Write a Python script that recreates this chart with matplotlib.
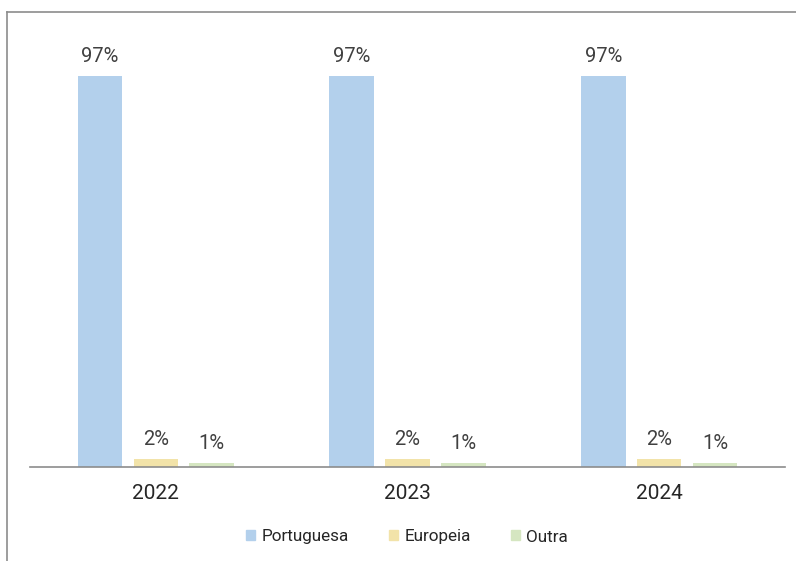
import matplotlib
matplotlib.use("Agg")
import matplotlib.pyplot as plt
import numpy as np
from matplotlib.patches import Rectangle
from matplotlib.lines import Line2D

plt.rcParams['font.family'] = ['Roboto', 'DejaVu Sans']

years = ["2022", "2023", "2024"]
series = ["Portuguesa", "Europeia", "Outra"]
portuguesa = [97, 97, 97]
europeia = [2, 2, 2]
outra = [1, 1, 1]
colors = ["#b3d0ec", "#f2e3a9", "#d5e6c1"]

fig = plt.figure(figsize=(7.96, 5.61), dpi=100)
ax = fig.add_axes([30/796, (561-467)/561, 755/796, 403/561])

x = np.arange(len(years))
width = 0.177
offsets = [-0.222, 0.0, 0.222]
text_color = "#404040"
for vals, off, col, name in zip([portuguesa, europeia, outra], offsets, colors, series):
    bars = ax.bar(x + off, vals, width, color=col, label=name)
    for b, v in zip(bars, vals):
        ax.annotate(f"{v}%", (b.get_x() + b.get_width()/2, b.get_height()),
                    xytext=(0, 10), textcoords="offset points",
                    ha="center", va="baseline", fontsize=14.5, color=text_color)

ax.set_xlim(-0.5, 2.5)
ax.set_ylim(0, 100)
ax.set_xticks(x)
ax.set_xticklabels(years, fontsize=15, color="#262626")
ax.tick_params(axis="x", length=0, pad=12)
ax.set_yticks([])
for s in ["top", "right", "left"]:
    ax.spines[s].set_visible(False)
ax.spines["bottom"].set_color("#8c8c8c")
ax.spines["bottom"].set_linewidth(1.2)

handles = [Rectangle((0, 0), 1, 1, color=c) for c in colors]
leg = fig.legend(handles, series, loc="center", bbox_to_anchor=(407/796, 1 - 537/561),
                 ncol=3, frameon=False, fontsize=12.3, handlelength=0.53, handleheight=0.53,
                 handletextpad=0.38, columnspacing=2.35, labelcolor="#262626")

# outer frame (left and top edges visible)
fig.add_artist(Line2D([6.5/796, 6.5/796], [0, 1 - 11.5/561], transform=fig.transFigure,
                      color="#8c8c8c", lw=1.2))
fig.add_artist(Line2D([6.5/796, 1], [1 - 11.5/561, 1 - 11.5/561], transform=fig.transFigure,
                      color="#8c8c8c", lw=1.2))

fig.savefig("out.png", dpi=100)
